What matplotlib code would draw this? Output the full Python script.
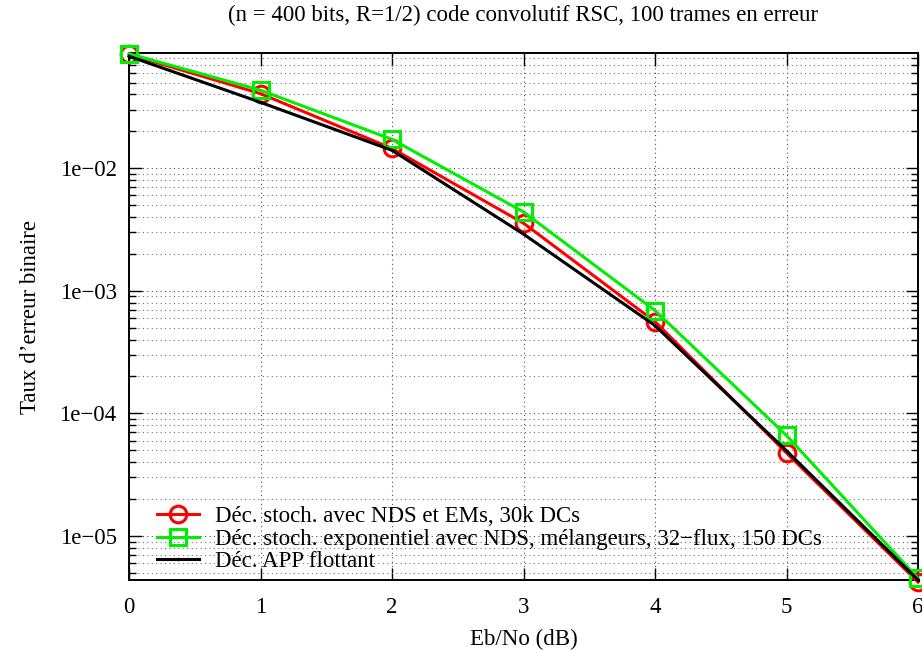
import math

import matplotlib
matplotlib.use("Agg")
import matplotlib.pyplot as plt
from matplotlib.ticker import LogLocator, FixedLocator, FuncFormatter, NullFormatter

plt.rcParams["font.family"] = ["Liberation Serif", "DejaVu Serif"]

# data
ebno = [0, 1, 2, 3, 4, 5, 6]
ber_stoch_nds_em = [0.085, 0.0406, 0.0145, 3.56e-3, 5.6e-4, 4.75e-5, 4.2e-6]
ber_stoch_exp = [0.086, 0.0433, 0.0172, 4.4e-3, 6.9e-4, 6.6e-5, 4.5e-6]
ber_app = [0.082, 0.0345, 0.0140, 2.9e-3, 5.2e-4, 4.95e-5, 4.37e-6]

labels = [
    "Déc. stoch. avec NDS et EMs, 30k DCs",
    "Déc. stoch. exponentiel avec NDS, mélangeurs, 32\u2212flux, 150 DCs",
    "Déc. APP flottant",
]
title = "(n = 400 bits, R=1/2) code convolutif RSC, 100 trames en erreur"

FS = 16.5

fig = plt.figure(figsize=(9.22, 6.5), dpi=100)
ax = fig.add_axes([0.140, 0.1077, 0.8557, 0.8103])

ax.plot(ebno, ber_stoch_nds_em, color="#ff0000", lw=2.2, marker="o",
        ms=12, mfc="none", mew=2.2, label=labels[0], zorder=3, clip_on=False)
ax.plot(ebno, ber_stoch_exp, color="#00ee00", lw=2.2, marker="s",
        ms=12, mfc="none", mew=2.2, label=labels[1], zorder=4, clip_on=False)
ax.plot(ebno, ber_app, color="black", lw=2.2, marker=".", ms=3,
        label=labels[2], zorder=5, clip_on=False)

ax.set_yscale("log")
ax.set_xlim(0, 6)
ax.set_ylim(4.37e-6, 0.0867)

ax.xaxis.set_major_locator(FixedLocator(ebno))
ax.yaxis.set_major_locator(LogLocator(base=10, numticks=10))
ax.yaxis.set_minor_locator(LogLocator(base=10, subs=range(2, 10), numticks=20))
ax.yaxis.set_minor_formatter(NullFormatter())


def fmt_exp(v, pos):
    e = int(round(math.log10(v)))
    return "1e\u2212%02d" % (-e)


ax.yaxis.set_major_formatter(FuncFormatter(fmt_exp))

ax.tick_params(which="both", direction="in", top=True, right=True,
               labelsize=FS)
ax.tick_params(axis="x", pad=12)
ax.tick_params(axis="y", pad=9)
ax.tick_params(which="major", length=9, width=1)
ax.tick_params(which="minor", length=5, width=1)

ax.grid(True, which="major", ls=(0, (1, 3)), color="0.3", lw=0.8)
ax.grid(True, which="minor", axis="y", ls=(0, (1, 3)), color="0.45", lw=0.8)

for s in ax.spines.values():
    s.set_linewidth(1.4)

ax.set_title(title, fontsize=FS, pad=23)
ax.set_xlabel("Eb/No (dB)", fontsize=FS, labelpad=8)
ax.set_ylabel("Taux d\u2019erreur binaire", fontsize=FS, labelpad=13)

ax.legend(loc="lower left", frameon=False, fontsize=FS, handlelength=1.85,
          handletextpad=0.7, labelspacing=0.06, borderaxespad=0.0,
          borderpad=0.0, bbox_to_anchor=(0.035, 0.015))

fig.savefig("out.png", dpi=100)
